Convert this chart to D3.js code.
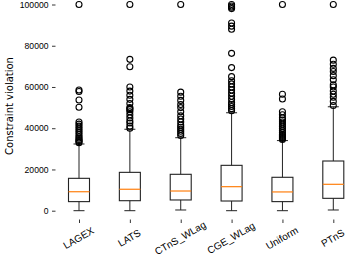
<!DOCTYPE html>
<html>
<head>
<meta charset="utf-8">
<script src="https://cdn.jsdelivr.net/npm/d3@7"></script>
<style>
  body { margin: 0; background: #fff; }
  svg { display: block; font-family: "DejaVu Sans", sans-serif; }
</style>
</head>
<body>
<svg id="box-chart" width="348" height="260"></svg>
<script>
// methods on x axis
const methods = ['LAGEX', 'LATS', 'CTnS_WLag', 'CGE_WLag', 'Uniform', 'PTnS'];

// box stats: low whisker, Q1, median, Q3, high whisker
const lowWhisker = [0, 0, 340, 0, 0, 340];
const q1 = [4400, 4850, 5200, 4700, 4400, 6000];
const medians = [9200, 10400, 9550, 11650, 9100, 12800];
const q3 = [15700, 18600, 17650, 22000, 16200, 24100];
const highWhisker = [32350, 39500, 35400, 47500, 34000, 50400];

// fliers
const fliers = [
    [33000, 33500, 34000, 34500, 35200, 36000, 37000, 38000, 39000, 40000, 41000, 42000, 43000, 50150, 53700, 57800, 58500, 100000],
    [40000, 41000, 42500, 43500, 45000, 46500, 48000, 49000, 49500, 50000, 52000, 54000, 56000, 58000, 60000, 69800, 73400, 100000],
    [36500, 37500, 38500, 39500, 40500, 41500, 43000, 44500, 46000, 48000, 50000, 51500, 53500, 55500, 57500, 100000],
    [48500, 49500, 50500, 51500, 52500, 54000, 55500, 57000, 58500, 60000, 61500, 63000, 65000, 69400, 76300, 88000, 89500, 91000, 98000, 98700, 99300, 100000],
    [34500, 35000, 35500, 36000, 36500, 37000, 38000, 39000, 40000, 41000, 42000, 43000, 44000, 45000, 46500, 48000, 54200, 56500, 100000],
    [51000, 53000, 55000, 56500, 58000, 60000, 61000, 63500, 65500, 67500, 69000, 71000, 73000, 100000]
];

const yTicks = [0, 20000, 40000, 60000, 80000, 100000];

var svg = d3.select('#box-chart');

var x = d3.scalePoint()
    .domain(methods)
    .range([79, 333.3]);

var y = d3.scaleLinear()
    .domain([0, 100000])
    .range([210.7, 4.5]);

const boxW = 21, capW = 11;

//y axis, no spine
var yAxis = svg.append('g')
    .attr('transform', 'translate(55.5,0)')
    .call(d3.axisLeft(y).tickValues(yTicks).tickFormat(d3.format('d')).tickSize(3.5).tickPadding(3.5));
yAxis.select('.domain').remove();
yAxis.selectAll('text').style('font-size', '8.6px').attr('fill', '#000');
yAxis.selectAll('line').attr('stroke', '#000').attr('stroke-width', 0.8);

//x axis, no spine
var xAxis = svg.append('g')
    .attr('transform', 'translate(0,219.5)')
    .call(d3.axisBottom(x).tickSize(3.5));
xAxis.select('.domain').remove();
xAxis.selectAll('line').attr('stroke', '#000').attr('stroke-width', 0.8);
xAxis.selectAll('text')
    .attr('y', 0).attr('dy', '0.35em')
    .attr('transform', 'translate(-1,18.5) rotate(-30)')
    .attr('text-anchor', 'middle')
    .attr('fill', '#000')
    .style('font-size', '10px');

svg.append('text')
    .attr('transform', 'translate(13,106) rotate(-90)')
    .attr('text-anchor', 'middle')
    .style('font-size', '10px')
    .text('Constraint violation');

var boxes = svg.selectAll('g.box')
    .data(methods)
    .enter().append('g')
    .attr('class', 'box')
    .attr('transform', function(d) { return 'translate(' + x(d) + ',0)'; });

//whiskers
boxes.append('line')
    .attr('y1', function(d, i) { return y(q1[i]); })
    .attr('y2', function(d, i) { return y(lowWhisker[i]); })
    .attr('stroke', '#222');
boxes.append('line')
    .attr('y1', function(d, i) { return y(q3[i]); })
    .attr('y2', function(d, i) { return y(highWhisker[i]); })
    .attr('stroke', '#222');
//caps
boxes.append('line')
    .attr('x1', -capW / 2).attr('x2', capW / 2)
    .attr('y1', function(d, i) { return y(lowWhisker[i]); })
    .attr('y2', function(d, i) { return y(lowWhisker[i]); })
    .attr('stroke', '#222');
boxes.append('line')
    .attr('x1', -capW / 2).attr('x2', capW / 2)
    .attr('y1', function(d, i) { return y(highWhisker[i]); })
    .attr('y2', function(d, i) { return y(highWhisker[i]); })
    .attr('stroke', '#222');

boxes.append('rect')
    .attr('x', -boxW / 2)
    .attr('width', boxW)
    .attr('y', function(d, i) { return y(q3[i]); })
    .attr('height', function(d, i) { return y(q1[i]) - y(q3[i]); })
    .attr('fill', 'none')
    .attr('stroke', '#222')
    .attr('stroke-width', 1.1);

boxes.append('line')
    .attr('x1', -boxW / 2).attr('x2', boxW / 2)
    .attr('y1', function(d, i) { return y(medians[i]); })
    .attr('y2', function(d, i) { return y(medians[i]); })
    .attr('stroke', '#ff7f0e')
    .attr('stroke-width', 1.2);

boxes.selectAll('circle')
    .data(function(d, i) { return fliers[i]; })
    .enter().append('circle')
    .attr('cx', 0)
    .attr('cy', function(v) { return y(v); })
    .attr('r', 3)
    .attr('fill', 'none')
    .attr('stroke', '#000')
    .attr('stroke-width', 1.1);
</script>
</body>
</html>
